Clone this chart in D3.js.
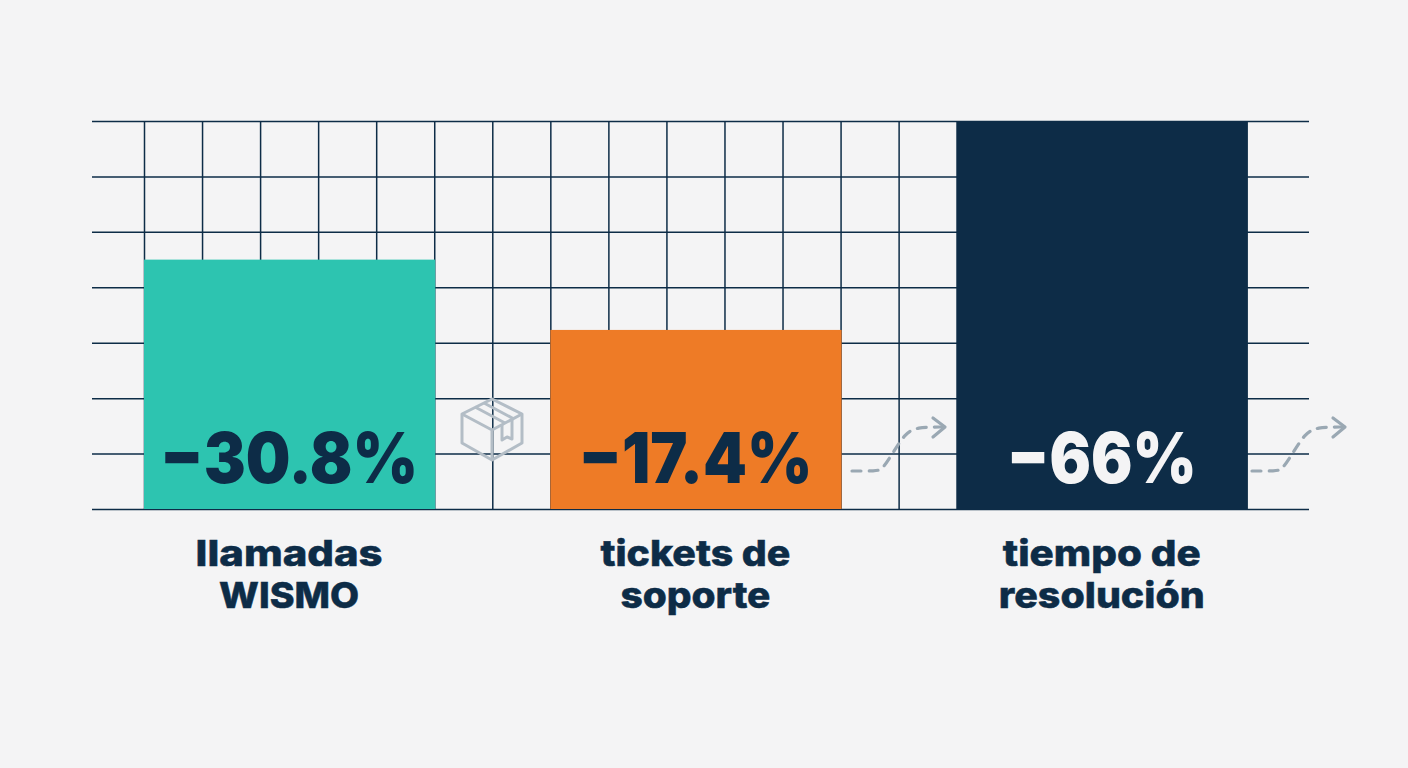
<!DOCTYPE html>
<html lang="es">
<head>
<meta charset="utf-8">
<title>Reducciones</title>
<script src="https://cdn.jsdelivr.net/npm/d3@7/dist/d3.min.js"></script>
<style>
  html, body { margin: 0; padding: 0; background: #f4f4f5; }
  svg { display: block; }
  text { font-family: Inter, "Noto Sans", sans-serif; font-weight: 900; }
  text.cat { font-weight: 800; }
</style>
</head>
<body>
<svg id="chart" width="1408" height="768"></svg>
<script>
// Chart content
const metrics = ["llamadas WISMO", "tickets de soporte", "tiempo de resolución"];
const reductions = [30.8, 17.4, 66];
const valueLabels = ["−30.8%", "−17.4%", "−66%"];
const valueWidths = [258, 234, 190];
const categoryLines = [["llamadas", "WISMO"], ["tickets de", "soporte"], ["tiempo de", "resolución"]];
const categoryWidths = [[187, 140], [190, 150], [198, 206]];
const barColors = ["#2dc4b0", "#ee7b26", "#0d2c47"];
const labelColors = ["#0d2c47", "#0d2c47", "#f4f4f5"];

const navy = "#0d2c47";
const flowGrey = "#9aa8b3";
const iconGrey = "#b3bdc6";

const svg = d3.select("#chart");

// Column grid: 21 narrow cells, each bar spans five of them and starts on a grid line
const cell = d3.scaleLinear().domain([0, 21]).range([144, 1363]);
const barCells = [0, 7, 14];
const barSpan = 5;

// Compressed value axis so the small reductions stay legible beside the large one
const y = d3.scalePow().exponent(0.58).domain([0, 66]).range([509, 121]);
const rowLines = d3.range(8).map(i => 509.5 - i * (388 / 7));

const grid = svg.append("g").attr("stroke", navy).attr("stroke-width", 1.5);
grid.selectAll("line.row").data(rowLines).join("line")
  .attr("class", "row")
  .attr("x1", 92).attr("x2", 1309)
  .attr("y1", d => d).attr("y2", d => d);
grid.selectAll("line.col").data(d3.range(0, 15)).join("line")
  .attr("class", "col")
  .attr("x1", d => cell(d) + 0.5).attr("x2", d => cell(d) + 0.5)
  .attr("y1", 121).attr("y2", 509);

// Bars
svg.selectAll("rect.bar").data(reductions).join("rect")
  .attr("class", "bar")
  .attr("x", (d, i) => cell(barCells[i]))
  .attr("width", cell(barSpan) - cell(0) + 1)
  .attr("y", d => y(d))
  .attr("height", d => y(0) - y(d))
  .attr("fill", (d, i) => barColors[i]);

// Value labels inside the bars, stretched to a fixed width per label
svg.selectAll("text.value").data(valueLabels).join("text")
  .attr("class", "value")
  .attr("x", (d, i) => cell(barCells[i] + barSpan / 2) - valueWidths[i] / 2)
  .attr("y", 483)
  .attr("textLength", (d, i) => valueWidths[i])
  .attr("lengthAdjust", "spacingAndGlyphs")
  .attr("font-size", 70)
  .attr("fill", (d, i) => labelColors[i])
  .text(d => d);

// Category labels under the baseline, two lines per bar
categoryLines.forEach((lines, i) => {
  lines.forEach((line, j) => {
    svg.append("text")
      .attr("class", "cat")
      .attr("x", cell(barCells[i] + barSpan / 2) - categoryWidths[i][j] / 2)
      .attr("y", 566 + j * 42)
      .attr("textLength", categoryWidths[i][j])
      .attr("lengthAdjust", "spacingAndGlyphs")
      .attr("font-size", 36)
      .attr("fill", navy)
      .attr("stroke", navy)
      .attr("stroke-width", 0.5)
      .text(line);
  });
});

// Dashed flow arrows after the orange and navy bars
const flow = d3.line().curve(d3.curveBasis);
const flowShape = [[0, 0], [24, 0], [30, -1], [42, -20], [53, -37], [64, -44], [92, -44]];
[852, 1252].forEach(x0 => {
  const g = svg.append("g")
    .attr("transform", `translate(${x0},471)`)
    .attr("fill", "none").attr("stroke", flowGrey)
    .attr("stroke-width", 3.2).attr("stroke-linecap", "round");
  g.append("path").attr("d", flow(flowShape)).attr("stroke-dasharray", "9 8");
  g.append("path").attr("d", "M81,-53 L93,-44 L81,-34").attr("stroke-linejoin", "round");
});

// Parcel icon between the first two bars
const box = svg.append("g")
  .attr("transform", "translate(492,429)")
  .attr("fill", "none").attr("stroke", iconGrey)
  .attr("stroke-width", 3).attr("stroke-linejoin", "round");
box.append("path").attr("d", "M0,-30 L30,-15 L30,14 L0,31 L-30,14 L-30,-15 Z");
box.append("path").attr("d", "M-30,-15 L0,1 L30,-15 M0,1 L0,31");
box.append("path").attr("d", "M-17,-22 L13,-6 M-8,-26 L22,-10");
box.append("path").attr("d", "M10,-5 L10,11 L15,8 L20,10 L20,-10");
</script>
</body>
</html>
